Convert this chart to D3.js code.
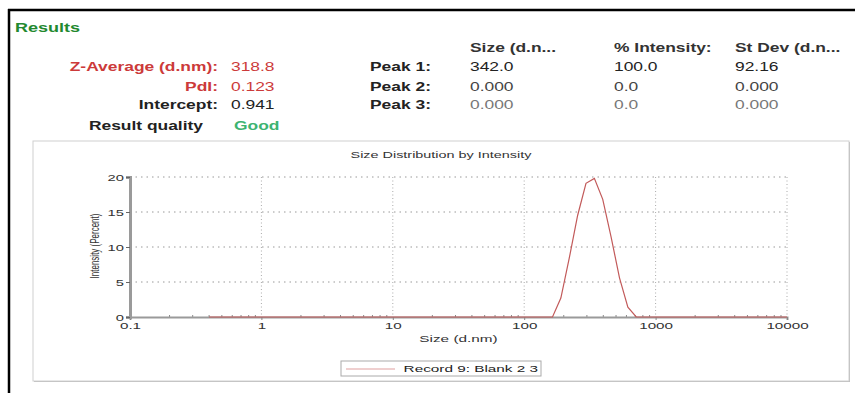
<!DOCTYPE html>
<html lang="en">
<head>
<meta charset="UTF-8">
<title>Size Distribution by Intensity</title>
<script src="https://cdn.jsdelivr.net/npm/d3@7/dist/d3.min.js"></script>
<style>
  body { margin: 0; background: #fff; }
  text { font-family: "Liberation Sans", Arial, sans-serif; }
</style>
</head>
<body>
<svg id="chart" width="855" height="393"></svg>
<script>
// Size bins (d.nm) and intensity (%)
const sizes = [0.4, 0.4632, 0.5365, 0.6213, 0.7195, 0.8332, 0.9649,
  1.117, 1.294, 1.499, 1.736, 2.010, 2.328, 2.696, 3.122, 3.615, 4.187, 4.849, 5.615, 6.503, 7.531, 8.721,
  10.10, 11.70, 13.54, 15.69, 18.17, 21.04, 24.36, 28.21, 32.67, 37.84, 43.82, 50.75, 58.77, 68.06, 78.82, 91.28,
  105.7, 122.4, 141.8, 164.2, 190.1, 220.2, 255.0, 295.3, 342.0, 396.1, 458.7, 531.2, 615.1, 712.4, 825.0, 955.4,
  1106, 1281, 1484, 1718, 1990, 2305, 2669, 3091, 3580, 4145, 4801, 5560, 6439, 7456, 8635, 10000];
const intensity = [0, 0, 0, 0, 0, 0, 0,
  0, 0, 0, 0, 0, 0, 0, 0, 0, 0, 0, 0, 0, 0, 0,
  0, 0, 0, 0, 0, 0, 0, 0, 0, 0, 0, 0, 0, 0, 0, 0,
  0, 0, 0, 0, 2.7, 8.4, 14.5, 19.1, 19.8, 16.8, 11.4, 5.6, 1.4, 0, 0, 0,
  0, 0, 0, 0, 0, 0, 0, 0, 0, 0, 0, 0, 0, 0, 0, 0];
const xTicks = [0.1, 1, 10, 100, 1000, 10000];
const xTickLabels = ["0.1", "1", "10", "100", "1000", "10000"];
const yTicks = [0, 5, 10, 15, 20];
const seriesName = "Record 9: Blank 2 3";

// Results table
const leftLabels = ["Z-Average (d.nm):", "PdI:", "Intercept:"];
const leftValues = ["318.8", "0.123", "0.941"];
const peakLabels = ["Peak 1:", "Peak 2:", "Peak 3:"];
const peakHeaders = ["Size (d.n...", "% Intensity:", "St Dev (d.n..."];
const peakSize = ["342.0", "0.000", "0.000"];
const peakIntensity = ["100.0", "0.0", "0.0"];
const peakStDev = ["92.16", "0.000", "0.000"];

const svg = d3.select("#chart");

// the source picture is stretched sideways; widen text the same way
function widen(sel, k) {
  sel.each(function () {
    const w = this.getComputedTextLength();
    d3.select(this).attr("textLength", w * k).attr("lengthAdjust", "spacingAndGlyphs");
  });
}

// outer frame
svg.append("line").attr("x1", 8).attr("x2", 855).attr("y1", 10).attr("y2", 10)
  .attr("stroke", "#000").attr("stroke-width", 2.5);
svg.append("line").attr("x1", 9).attr("x2", 9).attr("y1", 9).attr("y2", 393)
  .attr("stroke", "#000").attr("stroke-width", 2.5);

// header block
const hdr = svg.append("g").attr("font-size", 12);
const k = 1.45;
hdr.append("text").attr("x", 15).attr("y", 32).attr("font-weight", "bold")
  .attr("fill", "#23892f").text("Results").call(widen, 1.5);

const rowY = [71, 91, 109];
const rowLeftColor = ["#cc3a3a", "#cc3a3a", "#222"];
hdr.selectAll(".ll").data(leftLabels).join("text")
  .attr("x", 218).attr("y", (d, i) => rowY[i]).attr("text-anchor", "end")
  .attr("font-weight", "bold").attr("fill", (d, i) => rowLeftColor[i]).text(d => d).call(widen, k);
hdr.selectAll(".lv").data(leftValues).join("text")
  .attr("x", 231).attr("y", (d, i) => rowY[i])
  .attr("fill", (d, i) => rowLeftColor[i]).text(d => d).call(widen, k);
hdr.append("text").attr("x", 203).attr("y", 130).attr("text-anchor", "end")
  .attr("font-weight", "bold").attr("fill", "#222").text("Result quality").call(widen, k);
hdr.append("text").attr("x", 234).attr("y", 130)
  .attr("font-weight", "bold").attr("fill", "#3cb371").text("Good").call(widen, k);

hdr.selectAll(".pl").data(peakLabels).join("text")
  .attr("x", 370).attr("y", (d, i) => rowY[i])
  .attr("font-weight", "bold").attr("fill", "#222").text(d => d).call(widen, k);
const colX = [470, 614, 735];
hdr.selectAll(".ph").data(peakHeaders).join("text")
  .attr("x", (d, i) => colX[i]).attr("y", 52)
  .attr("font-weight", "bold").attr("fill", "#333").text(d => d).call(widen, k);
const valColor = ["#222", "#444", "#777"];
[peakSize, peakIntensity, peakStDev].forEach((col, c) => {
  hdr.selectAll(".pv" + c).data(col).join("text")
    .attr("x", colX[c]).attr("y", (d, i) => rowY[i])
    .attr("fill", (d, i) => valColor[i]).text(d => d).call(widen, k);
});

// chart panel
const panel = { x0: 33, y0: 141, x1: 849, y1: 381 };
svg.append("rect").attr("x", panel.x0 + 1).attr("y", panel.y0 + 1)
  .attr("width", panel.x1 - panel.x0).attr("height", panel.y1 - panel.y0)
  .attr("fill", "#bbb");
svg.append("rect").attr("x", panel.x0).attr("y", panel.y0)
  .attr("width", panel.x1 - panel.x0).attr("height", panel.y1 - panel.y0)
  .attr("fill", "#fff").attr("stroke", "#d0d0d0").attr("stroke-width", 1);

const x = d3.scaleLog().domain([0.1, 10000]).range([130, 787]);
const y = d3.scaleLinear().domain([0, 20]).range([317, 177]);

const chart = svg.append("g").attr("font-size", 9);

chart.append("text").attr("x", (panel.x0 + panel.x1) / 2).attr("y", 158)
  .attr("text-anchor", "middle").attr("fill", "#333")
  .text("Size Distribution by Intensity").call(widen, 1.6);

// dotted grid
chart.append("g").selectAll("line").data(yTicks.filter(d => d > 0)).join("line")
  .attr("x1", x.range()[0]).attr("x2", x.range()[1])
  .attr("y1", d => y(d)).attr("y2", d => y(d))
  .attr("stroke", "#999").attr("stroke-width", 1).attr("stroke-dasharray", "1.5,4");
chart.append("g").selectAll("line").data(xTicks.slice(1)).join("line")
  .attr("x1", d => x(d)).attr("x2", d => x(d))
  .attr("y1", y(20)).attr("y2", y(0))
  .attr("stroke", "#aaa").attr("stroke-width", 1).attr("stroke-dasharray", "1,2.5");

// minor ticks
const minorX = [];
xTicks.slice(0, -1).forEach(t => { for (let m = 2; m <= 9; m++) minorX.push(t * m); });
chart.append("g").selectAll("line").data(minorX).join("line")
  .attr("x1", d => x(d)).attr("x2", d => x(d)).attr("y1", y(0) - 2).attr("y2", y(0))
  .attr("stroke", "#888").attr("stroke-width", 1);
chart.append("g").selectAll("line").data([2.5, 7.5, 12.5, 17.5]).join("line")
  .attr("x1", x.range()[0]).attr("x2", x.range()[0] + 2).attr("y1", d => y(d)).attr("y2", d => y(d))
  .attr("stroke", "#888").attr("stroke-width", 1);

// axes
const xAxis = chart.append("g").attr("transform", `translate(0,${y(0)})`)
  .call(d3.axisBottom(x).tickValues(xTicks).tickFormat((d, i) => xTickLabels[i]).tickSize(3).tickPadding(2));
xAxis.select(".domain").attr("stroke", "#9a9a9a").attr("stroke-width", 2);
xAxis.selectAll(".tick line").attr("stroke", "#888");
xAxis.selectAll(".tick text").attr("fill", "#333").attr("font-size", 9.5)
  .attr("font-family", "Liberation Sans, Arial, sans-serif").call(widen, 1.6);

const yAxis = chart.append("g").attr("transform", `translate(${x.range()[0]},0)`)
  .call(d3.axisLeft(y).tickValues(yTicks).tickSize(4).tickPadding(2));
yAxis.select(".domain").attr("stroke", "#9a9a9a").attr("stroke-width", 3);
yAxis.selectAll(".tick line").attr("stroke", "#666");
yAxis.selectAll(".tick text").attr("fill", "#333").attr("font-size", 9.5)
  .attr("font-family", "Liberation Sans, Arial, sans-serif").call(widen, 1.55);

chart.append("text").attr("x", (x.range()[0] + x.range()[1]) / 2).attr("y", 342)
  .attr("text-anchor", "middle").attr("fill", "#333").text("Size (d.nm)").call(widen, 1.7);

chart.append("text").attr("transform", "translate(99,246) scale(1.6,1) rotate(-90)")
  .attr("text-anchor", "middle").attr("font-size", 8).attr("fill", "#333")
  .text("Intensity (Percent)");

// distribution curve
const line = d3.line().x((d, i) => x(sizes[i])).y(d => y(d));
chart.append("path").datum(intensity)
  .attr("d", line).attr("fill", "none")
  .attr("stroke", "#c25a5a").attr("stroke-width", 1.2);

// legend
const leg = chart.append("g");
leg.append("rect").attr("x", 341).attr("y", 361).attr("width", 200).attr("height", 15)
  .attr("fill", "#fff").attr("stroke", "#aaa").attr("stroke-width", 1);
leg.append("line").attr("x1", 346).attr("x2", 395).attr("y1", 369).attr("y2", 369)
  .attr("stroke", "#e0a0a0").attr("stroke-width", 1.2);
leg.append("text").attr("x", 538).attr("y", 372).attr("text-anchor", "end")
  .attr("fill", "#222").text(seriesName).call(widen, 1.7);
</script>
</body>
</html>
